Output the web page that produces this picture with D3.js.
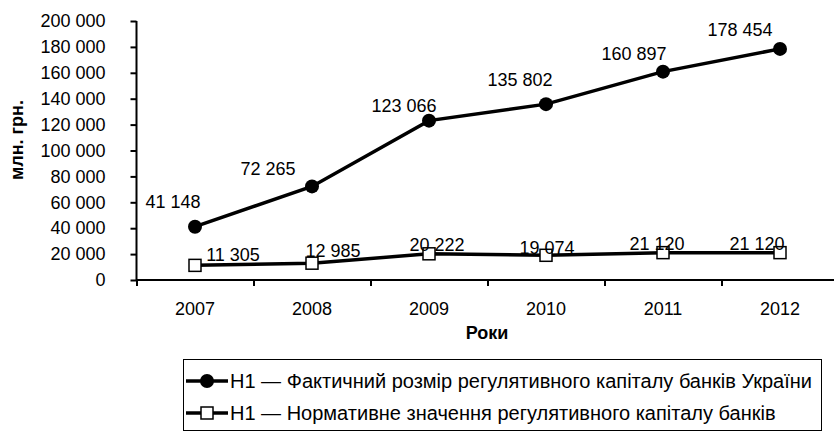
<!DOCTYPE html>
<html>
	<head>
		<meta http-equiv='Content-Type' content='text/html;charset=utf-8'/>
		<title>Регулятивний капітал</title>
		<script src='https://cdn.jsdelivr.net/npm/d3@7'></script>
		<style>
			body { margin: 0; background: #ffffff; }
			text { font-family: 'Liberation Sans', Arial, sans-serif; fill: #000000; }
		</style>
	</head>

	<body>
		<script>
		'use strict'
		const years = ['2007', '2008', '2009', '2010', '2011', '2012']
		const actual = [41148, 72265, 123066, 135802, 160897, 178454]
		const normative = [11305, 12985, 20222, 19074, 21120, 21120]
		const yTicks = [0, 20000, 40000, 60000, 80000, 100000, 120000, 140000, 160000, 180000, 200000]
		const seriesNames = [
			'Н1 — Фактичний розмір регулятивного капіталу банків України',
			'Н1 — Нормативне значення регулятивного капіталу банків'
		]
		// manual label nudges, like the hand-moved Excel labels
		const actualShift = [[-22, -19], [-44, -11], [-25, -9], [-26, -18], [-29, -12], [-40, -13]]
		const normShift = [[38, -4], [21, -6], [8, -3], [1, -1], [-6, -3], [-23, -3]]

		const width = 834
		const height = 432

		const fmt = d3.formatLocale({decimal: ',', thousands: ' ', grouping: [3], currency: ['', '']}).format(',d')

		const svg = d3.select('body').append('svg')
			.attr('width', width)
			.attr('height', height)

		const x = d3.scaleBand()
			.domain(years)
			.range([136.5, 838.5])

		const y = d3.scaleLinear()
			.domain([0, 200000])
			.range([280, 21])

		const cx = function(d, i) { return x(years[i]) + x.bandwidth() / 2 }

		// y axis
		const yAxis = svg.append('g')
			.attr('transform', 'translate(136.5,0)')
			.call(d3.axisLeft(y).tickValues(yTicks).tickFormat(fmt).tickSize(6).tickPadding(25))
		yAxis.select('.domain').attr('stroke', '#000').attr('stroke-width', 2).attr('d', 'M0,' + y(200000) + 'V' + y(0))
		yAxis.selectAll('.tick line').attr('stroke', '#000').attr('stroke-width', 2)
		yAxis.selectAll('.tick text').attr('font-size', 18).attr('font-family', null)

		// x axis with ticks between categories
		const xg = svg.append('g')
		xg.append('line')
			.attr('x1', 136.5).attr('x2', width)
			.attr('y1', y(0)).attr('y2', y(0))
			.attr('stroke', '#000').attr('stroke-width', 2)
		xg.selectAll('.xtick')
			.data(years)
			.enter().append('line')
			.attr('x1', function(d) { return x(d) + 0.5 })
			.attr('x2', function(d) { return x(d) + 0.5 })
			.attr('y1', y(0)).attr('y2', y(0) + 6)
			.attr('stroke', '#000').attr('stroke-width', 2)
		xg.selectAll('.xlab')
			.data(years)
			.enter().append('text')
			.attr('x', function(d) { return x(d) + x.bandwidth() / 2 })
			.attr('y', 315)
			.attr('text-anchor', 'middle')
			.attr('font-size', 18)
			.text(function(d) { return d })

		// axis titles
		svg.append('text')
			.attr('x', 487).attr('y', 339)
			.attr('text-anchor', 'middle')
			.attr('font-size', 18).attr('font-weight', 'bold')
			.text('Роки')
		svg.append('text')
			.attr('transform', 'translate(23,140) rotate(-90)')
			.attr('text-anchor', 'middle')
			.attr('font-size', 18).attr('font-weight', 'bold')
			.text('млн. грн.')

		const line = d3.line()
			.x(cx)
			.y(function(d) { return y(d) })

		// series lines
		svg.append('path').datum(actual)
			.attr('d', line).attr('fill', 'none')
			.attr('stroke', '#000').attr('stroke-width', 3.5)
		svg.append('path').datum(normative)
			.attr('d', line).attr('fill', 'none')
			.attr('stroke', '#000').attr('stroke-width', 3.5)

		// markers
		svg.selectAll('.dot')
			.data(actual)
			.enter().append('circle')
			.attr('cx', cx)
			.attr('cy', function(d) { return y(d) })
			.attr('r', 7)
			.attr('fill', '#000')
		svg.selectAll('.sq')
			.data(normative)
			.enter().append('rect')
			.attr('x', function(d, i) { return cx(d, i) - 6 })
			.attr('y', function(d) { return y(d) - 6 })
			.attr('width', 12).attr('height', 12)
			.attr('fill', '#fff').attr('stroke', '#000').attr('stroke-width', 1.5)

		// data labels
		svg.selectAll('.lab1')
			.data(actual)
			.enter().append('text')
			.attr('x', function(d, i) { return cx(d, i) + actualShift[i][0] })
			.attr('y', function(d, i) { return y(d) + actualShift[i][1] })
			.attr('text-anchor', 'middle')
			.attr('font-size', 18)
			.text(fmt)
		svg.selectAll('.lab2')
			.data(normative)
			.enter().append('text')
			.attr('x', function(d, i) { return cx(d, i) + normShift[i][0] })
			.attr('y', function(d, i) { return y(d) + normShift[i][1] })
			.attr('text-anchor', 'middle')
			.attr('font-size', 18)
			.text(fmt)

		// legend
		const legend = svg.append('g')
		legend.append('rect')
			.attr('x', 183.5).attr('y', 359.5)
			.attr('width', 638).attr('height', 71)
			.attr('fill', 'none').attr('stroke', '#000').attr('stroke-width', 1)
		const rows = legend.selectAll('.row')
			.data(seriesNames)
			.enter().append('g')
			.attr('transform', function(d, i) { return 'translate(0,' + (381 + i * 32) + ')' })
		rows.append('line')
			.attr('x1', 186).attr('x2', 228)
			.attr('stroke', '#000').attr('stroke-width', 3.5)
		rows.filter(function(d, i) { return i === 0 }).append('circle')
			.attr('cx', 207).attr('r', 7).attr('fill', '#000')
		rows.filter(function(d, i) { return i === 1 }).append('rect')
			.attr('x', 201).attr('y', -6).attr('width', 12).attr('height', 12)
			.attr('fill', '#fff').attr('stroke', '#000').attr('stroke-width', 1.5)
		rows.append('text')
			.attr('x', 230).attr('y', 7)
			.attr('font-size', 20)
			.text(function(d) { return d })
		</script>
	</body>
</html>
